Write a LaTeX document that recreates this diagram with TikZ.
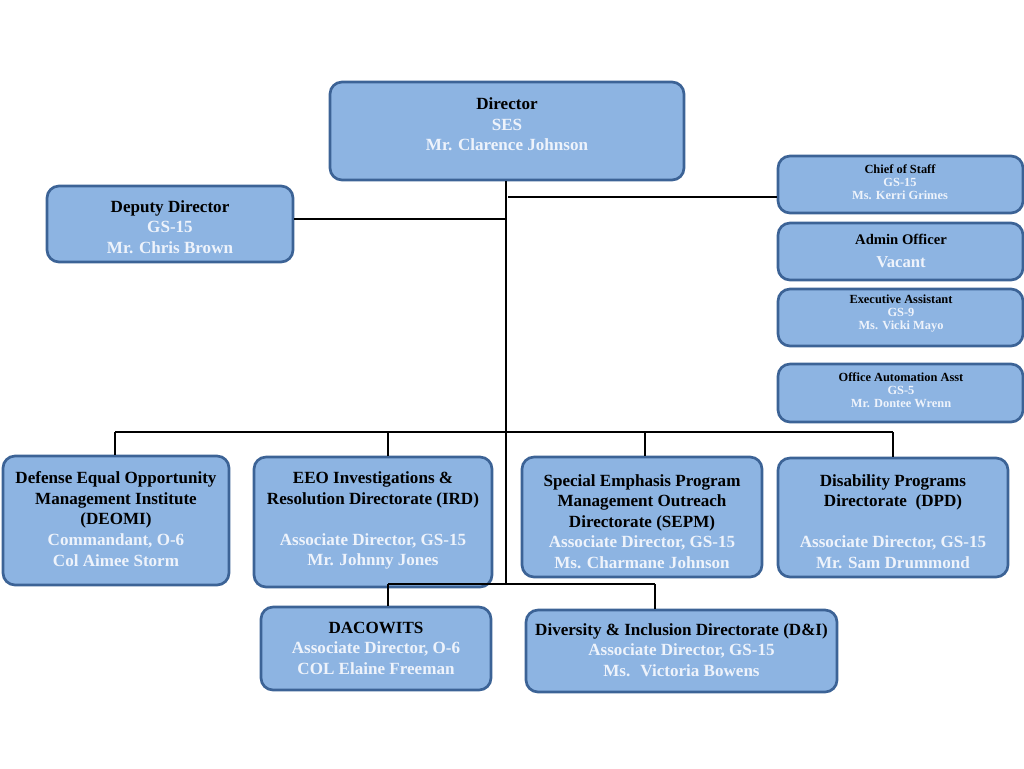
\documentclass[tikz,border=0pt]{standalone}
\usepackage{fontspec}
\setmainfont{Liberation Serif}
\definecolor{boxfill}{HTML}{8DB4E2}
\definecolor{boxline}{HTML}{3C6396}
\definecolor{wtext}{HTML}{EEF3FB}
\tikzset{
  box/.style={draw=boxline, fill=boxfill, line width=2pt, rounded corners=9pt, inner sep=0pt},
  txt/.style={align=center, font=\bfseries\fontsize{12.8}{15.4}\selectfont, inner sep=0pt},
  stxt/.style={align=center, font=\bfseries\fontsize{9.3}{9.75}\selectfont, inner sep=0pt},
  conn/.style={draw=black, line width=0.8pt},
}
\newcommand{\wt}[1]{\textcolor{wtext}{#1}}
\newcommand{\mkbox}[5]{% name, x1, y1, x2, y2
  \node[box, minimum width={(#4-#2)*0.75pt}, minimum height={(#5-#3)*0.75pt}] (#1) at ({(#2+#4)/2},{(#3+#5)/2}) {};}
\begin{document}
\begin{tikzpicture}[x=0.75pt, y=-0.75pt]
\useasboundingbox (0,0) rectangle (1024,768);
% boxes
\mkbox{dir}{330}{82}{684}{180}
\mkbox{cos}{778}{156}{1023}{213}
\mkbox{dep}{47}{186}{293}{262}
\mkbox{adm}{778}{223}{1023}{280}
\mkbox{exa}{778}{289}{1023}{346}
\mkbox{oaa}{778}{364}{1023}{422}
\mkbox{deo}{3}{456}{229}{585}
\mkbox{eeo}{254}{457}{492}{587}
\mkbox{sep}{522}{457}{762}{577}
\mkbox{dpd}{778}{458}{1008}{577}
\mkbox{dac}{261}{607}{491}{690}
\mkbox{dni}{526}{610}{837}{692}
% texts
\node[txt] (dir-t) at (507,124.5) {Director\\ \wt{SES}\\ \wt{Mr. Clarence Johnson}};
\node[stxt] (cos-t) at (900,182) {Chief of Staff\\ \wt{GS-15}\\ \wt{Ms. Kerri Grimes}};
\node[txt] (dep-t) at (170,227) {Deputy Director\\ \wt{GS-15}\\ \wt{Mr. Chris Brown}};
\node[align=center, inner sep=0pt] (adm-t) at (901,251) {{\bfseries\fontsize{11}{12}\selectfont Admin Officer}\\[5pt] {\bfseries\fontsize{12.5}{14}\selectfont\wt{Vacant}}};
\node[stxt] (exa-t) at (901,314) {Executive Assistant\\ \wt{GS-9}\\ \wt{Ms. Vicki Mayo}};
\node[stxt] (oaa-t) at (901,390) {Office Automation Asst\\ \wt{GS-5}\\ \wt{Mr. Dontee Wrenn}};
\node[txt] (deo-t) at (116,519) {Defense Equal Opportunity\\ Management Institute\\ (DEOMI)\\ \wt{Commandant, O-6}\\ \wt{Col Aimee Storm}};
\node[txt] (eeo-t) at (373,520.5) {EEO Investigations \&\\ Resolution Directorate (IRD)\\ ~\\ \wt{Associate Director, GS-15}\\ \wt{Mr. Johnny Jones}};
\node[txt] (sep-t) at (642,521.5) {Special Emphasis Program\\ Management Outreach\\ Directorate (SEPM)\\ \wt{Associate Director, GS-15}\\ \wt{Ms. Charmane Johnson}};
\node[txt] (dpd-t) at (893,521.5) {Disability Programs\\ Directorate~ (DPD)\\ ~\\ \wt{Associate Director, GS-15}\\ \wt{Mr. Sam Drummond}};
\node[txt] (dac-t) at (376,648) {DACOWITS\\ \wt{Associate Director, O-6}\\ \wt{COL Elaine Freeman}};
\node[txt] (dni-t) at (681.5,650) {Diversity \& Inclusion Directorate (D\&I)\\ \wt{Associate Director, GS-15}\\ \wt{Ms.~ Victoria Bowens}};
% connector coordinates
\coordinate (jcos) at (508,197);
\coordinate (jdep) at (506,219);
\coordinate (bus) at (506,432);
\coordinate (vend) at (506,584);
\coordinate (bl) at (115,432);
\coordinate (br) at (893,432);
\coordinate (beeo) at (388,432);
\coordinate (bsep) at (645,432);
\coordinate (dl) at (388,584);
\coordinate (dr) at (655,584);
% connectors
\draw[conn] (dir.south -| vend) -- (vend);
\draw[conn] (jcos) -- (jcos -| cos.west);
\draw[conn] (jdep) -- (jdep -| dep.east);
\draw[conn] (bl) -- (br);
\draw[conn] (bl) -- (bl |- deo.north);
\draw[conn] (beeo) -- (beeo |- eeo.north);
\draw[conn] (bsep) -- (bsep |- sep.north);
\draw[conn] (br) -- (br |- dpd.north);
\draw[conn] (dl) -- (dr);
\draw[conn] (dl) -- (dl |- dac.north);
\draw[conn] (dr) -- (dr |- dni.north);
\end{tikzpicture}
\end{document}
